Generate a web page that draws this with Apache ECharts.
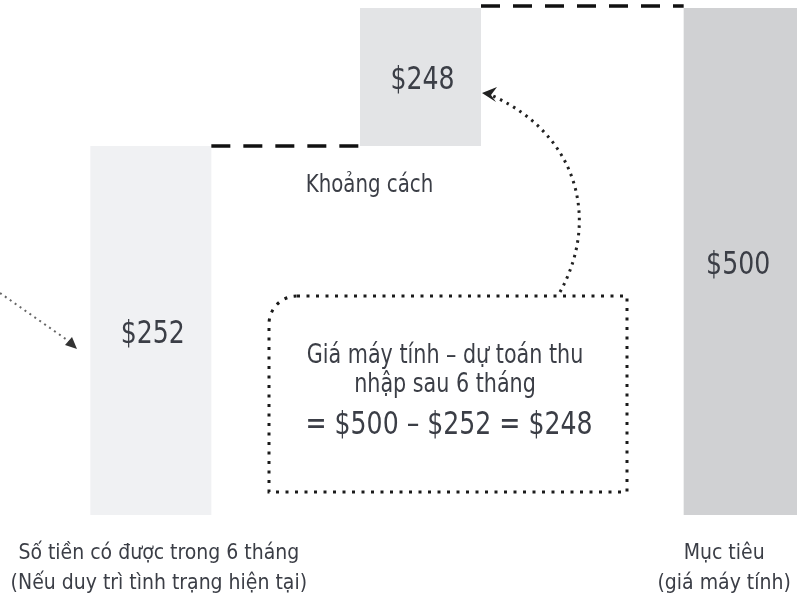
<!DOCTYPE html>
<html>
<head>
    <meta charset="utf-8">
    <script type="text/javascript" src="https://cdn.jsdelivr.net/npm/echarts@6/dist/echarts.min.js"></script>
    <style type="text/css">
        * {
            margin: 0;
            padding: 0;
        }
        #container {
            width: 797px;
            height: 609px;
            background: #fff;
        }
    </style>
</head>
<body>
<div id="container"></div>

<script type="text/javascript">

    //tên các cột
    var categories = ['Số tiền có được trong 6 tháng\n(Nếu duy trì tình trạng hiện tại)', 'Khoảng cách', 'Mục tiêu\n(giá máy tính)'];
    //số tiền ghi trên cột
    var amounts = [252, 248, 500];
    //đáy và đỉnh cột, đọc theo hình (hình vẽ không theo tỉ lệ)
    var barBase = [0, 364, 0];
    var barTop = [364, 500, 500];
    //công thức trong khung
    var noteLines = ['Giá máy tính – dự toán thu', 'nhập sau 6 tháng', '= $500 – $252 = $248'];

    var fontName = "'DejaVu Sans Condensed', sans-serif";
    var textColor = '#3b3e46';
    var barColors = ['#f0f1f3', '#e3e4e6', '#d0d1d3'];
    var barW = 121;
    var shiftX = [0, -27, 0];

    var barData = [];
    for (var i = 0; i < categories.length; i++) {
        barData.push([i, barBase[i], barTop[i]]);
    }

    //chữ kéo cao như kiểu chữ hẹp trong hình
    function tallText(text, x, y, size) {
        return {
            type: 'text',
            x: x,
            y: y,
            scaleY: 1.15,
            style: {
                text: text,
                x: 0,
                y: 0,
                align: 'center',
                verticalAlign: 'middle',
                fill: textColor,
                font: size + 'px ' + fontName
            }
        };
    }

    function renderBar(params, api) {
        var i = api.value(0);
        var lo = api.coord([i, api.value(1)]);
        var hi = api.coord([i, api.value(2)]);
        var cx = lo[0] + shiftX[i];
        var children = [{
            type: 'rect',
            shape: {x: cx - barW / 2, y: hi[1], width: barW, height: lo[1] - hi[1]},
            style: {fill: barColors[i]}
        }, tallText('$' + amounts[i], cx + (i == 2 ? -6 : 2), (lo[1] + hi[1]) / 2 + 4, 28)];
        //đường nối nét đứt tới cột kế tiếp
        if (i < categories.length - 1) {
            var next = api.coord([i + 1, barTop[i]]);
            var nx = next[0] + shiftX[i + 1] - barW / 2;
            var ly = hi[1] - (i == 1 ? 2 : 0);
            children.push({
                type: 'line',
                shape: {x1: cx + barW / 2, y1: ly, x2: nx, y2: ly},
                style: {stroke: '#111', lineWidth: 3.5, lineDash: [19, 13]}
            });
        }
        //nhãn cột giữa nằm ngay dưới cột
        if (i == 1) {
            children.push(tallText(categories[i], cx - 51, lo[1] + 40, 22));
        }
        return {type: 'group', children: children};
    }

    var labelStyle = {fontSize: 21, fontFamily: fontName, color: textColor, lineHeight: 30};

    var dom = document.getElementById('container');
    var myChart = echarts.init(dom);
    var option = {
        animation: false,
        grid: {
            left: 2.5,
            top: 8,
            width: 890,
            bottom: 94,
            outerBoundsMode: 'none'
        },
        xAxis: {
            type: 'category',
            data: categories,
            axisLine: {show: false},
            axisTick: {show: false},
            axisLabel: {
                interval: 0,
                margin: 24,
                fontSize: 21,
                lineHeight: 30,
                fontFamily: fontName,
                color: textColor,
                formatter: function (value, index) {
                    if (index == 1) {
                        return '';
                    }
                    return value.split('\n').map(function (r) {
                        return '{p' + index + '|' + r + '}';
                    }).join('\n');
                },
                rich: {
                    p0: echarts.util.extend({padding: [0, 0, 0, 16]}, labelStyle),
                    p2: echarts.util.extend({padding: [0, 40, 0, 0]}, labelStyle)
                }
            }
        },
        yAxis: {
            type: 'value',
            min: 0,
            max: 500,
            show: false
        },
        series: [{
            type: 'custom',
            renderItem: renderBar,
            encode: {x: 0, y: [1, 2]},
            data: barData,
            clip: false
        }],
        graphic: [
            {//khung chấm
                type: 'rect',
                shape: {x: 269, y: 296, width: 358, height: 196, r: [28, 0, 0, 0]},
                style: {fill: 'none', stroke: '#1a1a1a', lineWidth: 3, lineDash: [3, 6.5]}
            },
            tallText(noteLines[0], 445, 356, 23),
            tallText(noteLines[1], 445, 385, 23),
            tallText(noteLines[2], 449, 426, 28),
            {//mũi tên từ khung lên cột $248
                type: 'bezierCurve',
                shape: {x1: 560, y1: 292, cpx1: 600, cpy1: 220, cpx2: 578, cpy2: 135, x2: 493, y2: 96},
                style: {fill: 'none', stroke: '#222', lineWidth: 3, lineDash: [2.5, 5]}
            },
            {
                type: 'polygon',
                shape: {points: [[482, 93], [497, 87], [491, 95], [496, 102]]},
                style: {fill: '#222'}
            },
            {//mũi tên bên trái
                type: 'line',
                shape: {x1: 0, y1: 293, x2: 70, y2: 342},
                style: {stroke: '#666', lineWidth: 2, lineDash: [2, 4]}
            },
            {
                type: 'polygon',
                shape: {points: [[77, 349], [65, 345], [72, 337]]},
                style: {fill: '#333'}
            }
        ]
    };
    myChart.setOption(option, true);

</script>
</body>
</html>
